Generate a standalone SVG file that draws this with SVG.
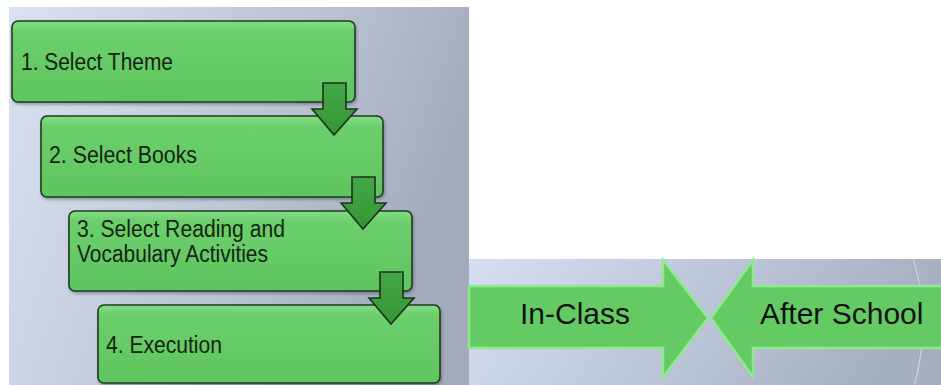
<svg xmlns="http://www.w3.org/2000/svg" width="941" height="385" viewBox="0 0 941 385">
<defs>
<linearGradient id="bgL" x1="0" y1="0" x2="1" y2="0.3">
<stop offset="0" stop-color="#d9e1f2"/>
<stop offset="0.6" stop-color="#bcc5d6"/>
<stop offset="1" stop-color="#a3abbb"/>
</linearGradient>
<linearGradient id="bgR" x1="0" y1="0" x2="1" y2="0.2">
<stop offset="0" stop-color="#d6def1"/>
<stop offset="0.6" stop-color="#bac3d5"/>
<stop offset="1" stop-color="#a6afc0"/>
</linearGradient>
<linearGradient id="boxG" x1="0" y1="0" x2="0" y2="1">
<stop offset="0" stop-color="#86de86"/>
<stop offset="0.12" stop-color="#6ccf6c"/>
<stop offset="1" stop-color="#5fc55f"/>
</linearGradient>
<linearGradient id="arrG" x1="0" y1="0" x2="0" y2="1">
<stop offset="0" stop-color="#43a843"/>
<stop offset="1" stop-color="#359535"/>
</linearGradient>
<filter id="sh" x="-5%" y="-10%" width="110%" height="130%">
<feDropShadow dx="1" dy="2" stdDeviation="1.5" flood-color="#000" flood-opacity="0.3"/>
</filter>
</defs>
<style>
.box{fill:url(#boxG);stroke:#1f3a1f;stroke-width:1.6}
.lbl{font-family:"Liberation Sans",Arial,sans-serif;font-size:23px;fill:#142414}
.big{font-family:"Liberation Sans",Arial,sans-serif;font-size:30px;fill:#111}
.blk{fill:#64cb64;stroke:#8fea8f;stroke-width:2.5}
.dn{fill:url(#arrG);stroke:#1c331c;stroke-width:1.6;stroke-linejoin:miter}
</style>
<rect x="9" y="7" width="460" height="378" fill="url(#bgL)"/>
<rect x="469" y="259" width="472" height="126" fill="url(#bgR)"/>
<path d="M913,259 A225,225 0 0 1 914,385" fill="none" stroke="#dfe3ea" stroke-width="1.5" opacity="0.7"/>
<path d="M912,259 A225,225 0 0 1 913,385" fill="none" stroke="#8f97a5" stroke-width="1" opacity="0.5"/>
<g id="node1">
<rect class="box" x="12" y="21" width="343" height="81" rx="6" filter="url(#sh)"/>
<text class="lbl" x="21" y="70" textLength="152" lengthAdjust="spacingAndGlyphs">1. Select Theme</text>
</g>
<g id="node2">
<rect class="box" x="41" y="116" width="342" height="81" rx="6" filter="url(#sh)"/>
<text class="lbl" x="49" y="163" textLength="148" lengthAdjust="spacingAndGlyphs">2. Select Books</text>
</g>
<g id="node3">
<rect class="box" x="69" y="211" width="343" height="80" rx="6" filter="url(#sh)"/>
<text class="lbl" x="77" y="237" textLength="208" lengthAdjust="spacingAndGlyphs">3. Select Reading and</text>
<text class="lbl" x="77" y="262" textLength="191" lengthAdjust="spacingAndGlyphs">Vocabulary Activities</text>
</g>
<g id="node4">
<rect class="box" x="98" y="305" width="342" height="78" rx="6" filter="url(#sh)"/>
<text class="lbl" x="106" y="353" textLength="116" lengthAdjust="spacingAndGlyphs">4. Execution</text>
</g>
<g id="connectors">
<polygon class="dn" points="323,83 346,83 346,109 357,109 334,135 312,109 323,109"/>
<polygon class="dn" points="352,177 375,177 375,203 386,203 363,229 341,203 352,203"/>
<polygon class="dn" points="380,272 403,272 403,298 414,298 391,324 369,298 380,298"/>
</g>
<g id="inclass">
<polygon class="blk" points="469,286 663,286 663,260 708,318 663,377 663,348 469,348"/>
<text class="big" x="520" y="324">In-Class</text>
</g>
<g id="afterschool">
<polygon class="blk" points="942,286 753,286 753,260 711,318 753,377 753,348 942,348"/>
<text class="big" x="760" y="324">After School</text>
</g>
</svg>
